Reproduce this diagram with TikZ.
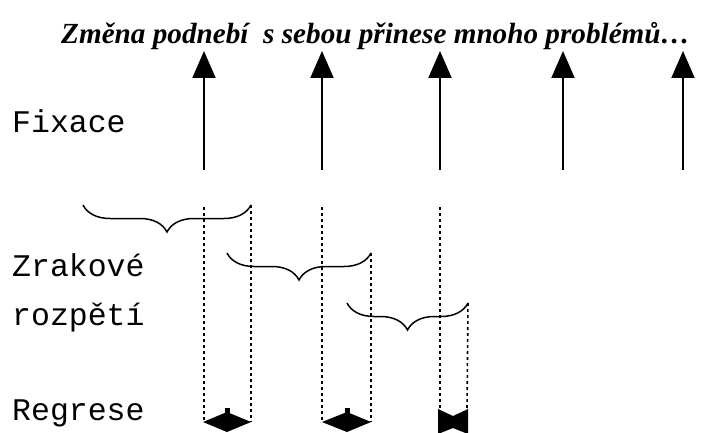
\documentclass[tikz,border=0pt]{standalone}
\usepackage{fontspec}
\setmainfont{Liberation Serif}
\setmonofont{Liberation Mono}
\usetikzlibrary{arrows.meta,decorations.pathreplacing}

\tikzset{
  fixarrow/.style={line width=2pt, -{Triangle[length=27pt,width=23pt]}},
  spanbrace/.style={line width=1.5pt, decorate,
    decoration={brace, mirror, amplitude=27pt}},
  guide/.style={line width=1.6pt, dash pattern=on 3pt off 3pt},
  rowlabel/.style={anchor=base west, inner sep=0pt, font=\fontsize{31.5}{31.5}\ttfamily},
}

\begin{document}
\begin{tikzpicture}[x=1pt, y=-1pt]
  \useasboundingbox (0,0) rectangle (712,433);
  % Title
  \node[anchor=west, inner sep=0pt, font=\fontsize{29.2}{29.2}\selectfont\bfseries\itshape]
    (title) at (61,36) {Změna podnebí \ s sebou přinese mnoho problémů…};
  % Row labels
  \node[rowlabel] (fix) at (12,133) {Fixace};
  \node[rowlabel] (span1) at (12,276) {Zrakové};
  \node[rowlabel] (span2) at (12,325) {rozpětí};
  \node[rowlabel] (reg) at (12,420) {Regrese};
  % Fixations
  \foreach \i/\x in {1/204, 2/322, 3/440, 4/563, 5/683} {
    \coordinate (f\i) at (\x,170);
    \coordinate (t\i) at (\x,51);
    \draw[fixarrow] (f\i) -- (t\i);
  }
  % Perceptual span braces
  \coordinate (b1l) at (83,205);  \coordinate (b1r) at (251,205);
  \coordinate (b2l) at (227,253); \coordinate (b2r) at (371,253);
  \coordinate (b3l) at (347,303); \coordinate (b3r) at (468,303);
  \draw[spanbrace] (b1l) -- (b1r);
  \draw[spanbrace] (b2l) -- (b2r);
  \draw[spanbrace] (b3l) -- (b3r);
  % Guide lines down to the regressions
  \coordinate (g1) at (204,207);
  \coordinate (g2) at (322,207);
  \coordinate (g3) at (440,207);
  \coordinate (r1l) at (204,422); \coordinate (r1r) at (251,422);
  \coordinate (r2l) at (322,422); \coordinate (r2r) at (371,422);
  \coordinate (r3l) at (440,410); \coordinate (r3r) at (467,410);
  \draw[guide] (g1) -- (r1l);
  \draw[guide] (b1r) -- (r1r);
  \draw[guide] (g2) -- (r2l);
  \draw[guide] (b2r) -- (r2r);
  \draw[guide] (g3) -- (r3l);
  \draw[guide] (b3r) -- (r3r);
  % Regressions
  \fill (203,422) -- (227,412) -- (251,422) -- (227,432) -- cycle;
  \fill (225,408) rectangle (230,413);
  \fill (322,422) -- (347,412) -- (371,422) -- (347,432) -- cycle;
  \fill (345,408) rectangle (350,413);
  \fill (438,409) -- (453,416) -- (468,409) -- (468,434) -- (453,428) -- (438,434) -- cycle;
\end{tikzpicture}
\end{document}
